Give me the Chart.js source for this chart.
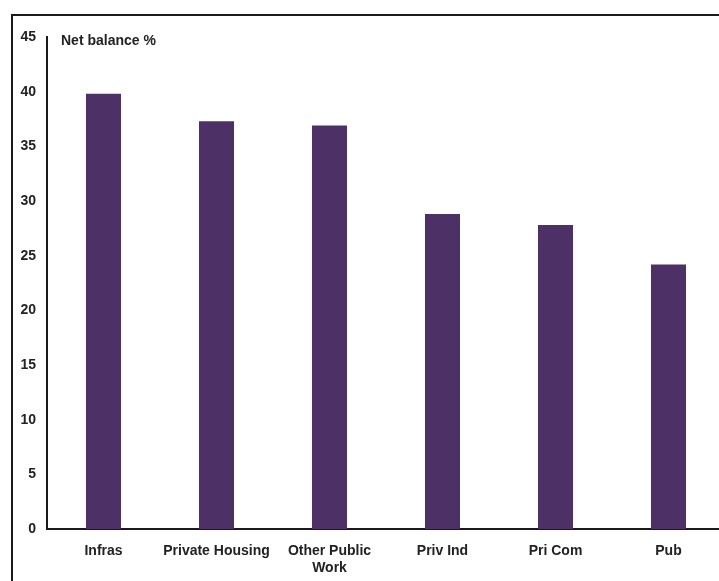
<!DOCTYPE html>
<html>
<head>
<meta charset="utf-8">
<script src="https://cdn.jsdelivr.net/npm/chart.js@4"></script>
<style>
  html, body { margin: 0; padding: 0; overflow: hidden; background: #fff; width: 719px; height: 581px; }
  #frame { position: absolute; left: 11px; top: 14px; width: 800px; height: 700px; border: 2px solid #1a1a1a; box-sizing: border-box; }
  #c { position: absolute; left: 0; top: 0; }
</style>
</head>
<body>
<div id="frame"></div>
<canvas id="c" width="725" height="581"></canvas>
<script>
const categories = ["Infras", "Private Housing", ["Other Public", "Work"], "Priv Ind", "Pri Com", "Pub"];
const netBalance = [39.8, 37.3, 36.9, 28.8, 27.8, 24.2];
const yTicks = [0, 5, 10, 15, 20, 25, 30, 35, 40, 45];
const axisTitle = "Net balance %";

const FONT = "'Liberation Sans', Arial, sans-serif";
const TEXT = "#222222";

const titlePlugin = {
  id: 'innerTitle',
  afterDraw(chart) {
    const { ctx, chartArea } = chart;
    ctx.save();
    ctx.font = "bold 14px " + FONT;
    ctx.fillStyle = TEXT;
    ctx.textAlign = 'left';
    ctx.textBaseline = 'middle';
    ctx.fillText(axisTitle, chartArea.left + 14, chartArea.top + 4);
    ctx.restore();
  }
};

new Chart(document.getElementById('c'), {
  type: 'bar',
  data: {
    labels: categories,
    datasets: [{
      data: netBalance,
      backgroundColor: '#4d3066',
      borderWidth: 0,
      barPercentage: 0.31,
      categoryPercentage: 1.0
    }]
  },
  options: {
    responsive: false,
    animation: false,
    devicePixelRatio: 1,
    layout: { padding: { top: 37, left: 0, right: 0, bottom: 0 } },
    plugins: { legend: { display: false }, tooltip: { enabled: false }, title: { display: false } },
    scales: {
      x: {
        grid: { display: false, drawTicks: false },
        border: { display: true, color: '#1a1a1a', width: 2 },
        ticks: {
          color: TEXT,
          font: { family: FONT, size: 14, weight: 'bold', lineHeight: 1.25 },
          padding: 13,
          maxRotation: 0,
          autoSkip: false
        },
        afterFit(scale) { scale.height = 52; }
      },
      y: {
        min: 0,
        max: 45,
        afterBuildTicks(scale) { scale.ticks = yTicks.map(v => ({ value: v })); },
        grid: { display: false, drawTicks: false },
        border: { display: true, color: '#1a1a1a', width: 2 },
        ticks: {
          color: TEXT,
          font: { family: FONT, size: 14, weight: 'bold' },
          padding: 11
        },
        afterFit(scale) { scale.width = 47; }
      }
    }
  },
  plugins: [titlePlugin]
});
</script>
</body>
</html>
